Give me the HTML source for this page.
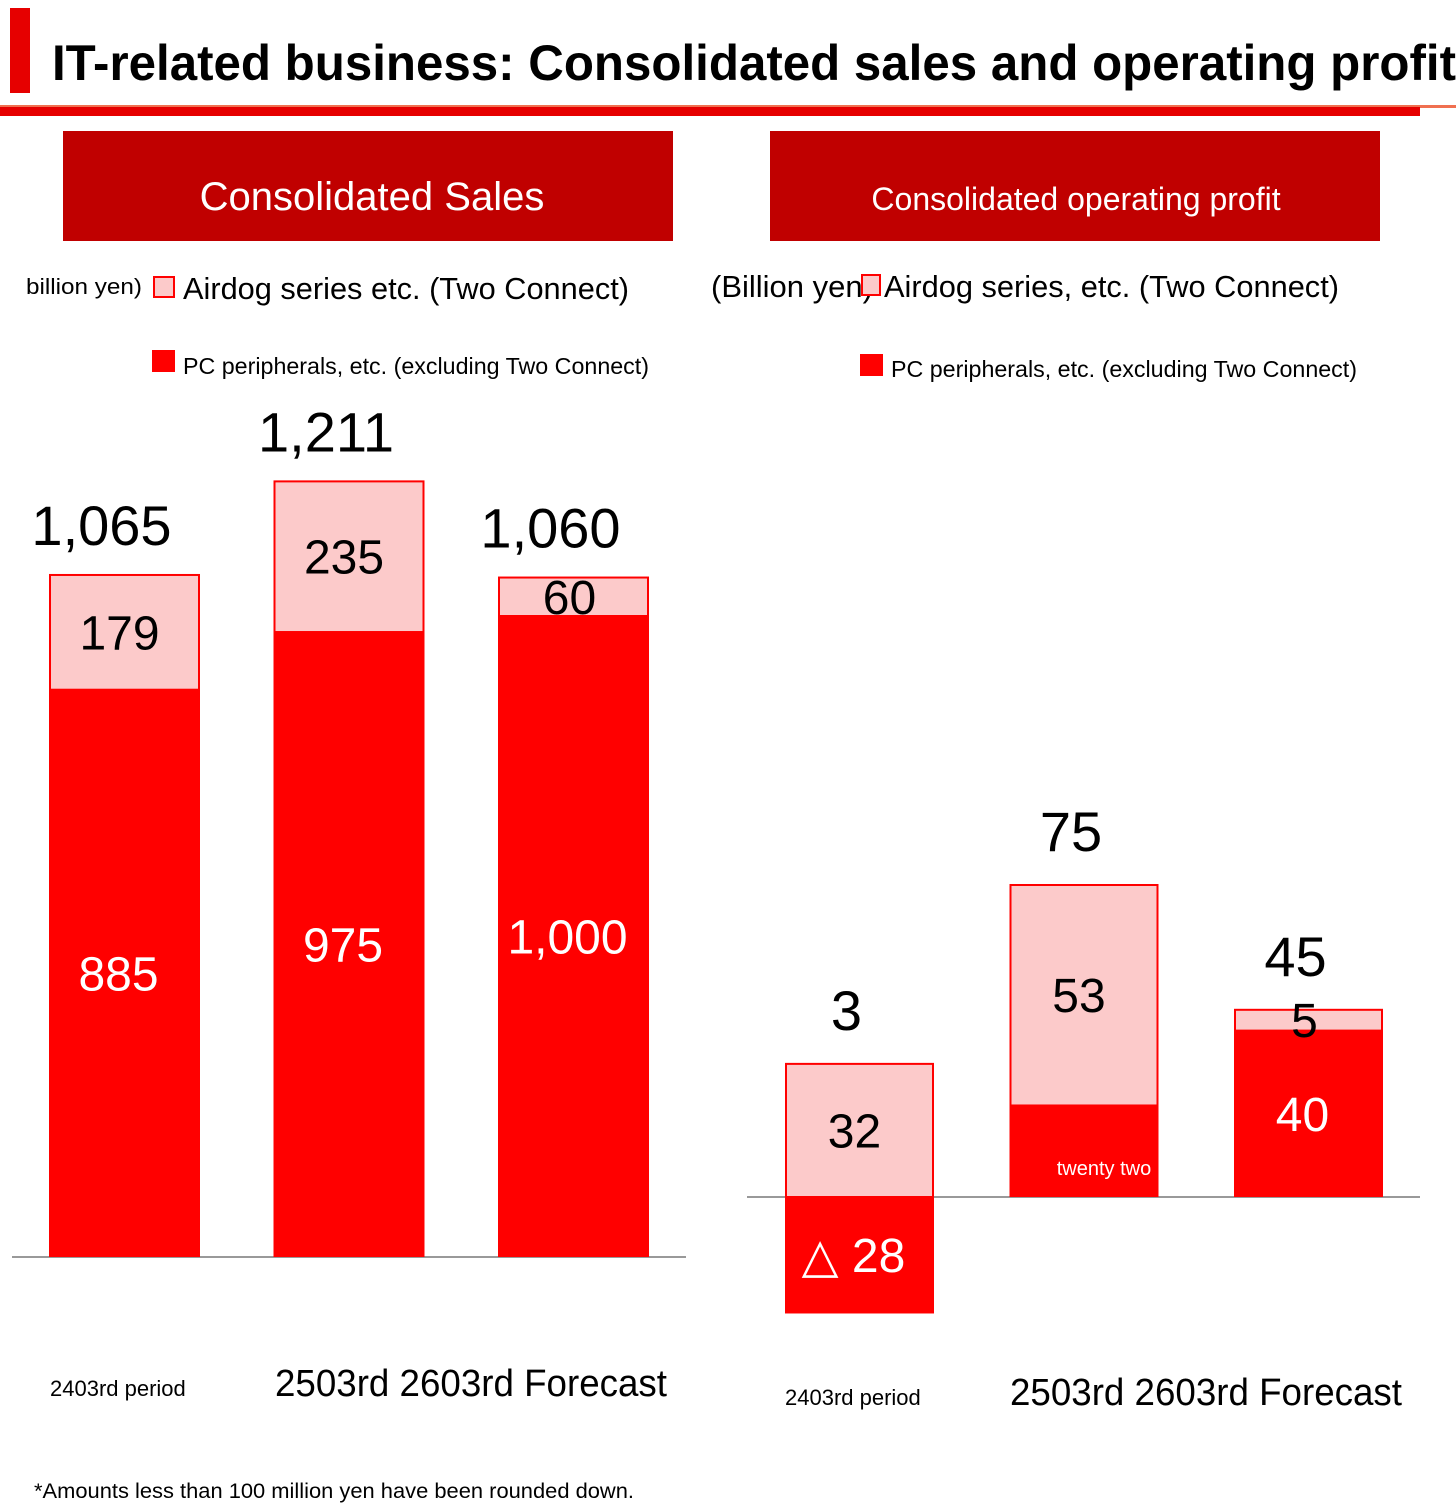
<!DOCTYPE html>
<html><head><meta charset="utf-8"><style>
html,body{margin:0;padding:0;background:#fff;}
svg{display:block;font-family:"Liberation Sans",sans-serif;}
</style></head><body>
<svg id="c" width="1456" height="1506" viewBox="0 0 1456 1506" xmlns="http://www.w3.org/2000/svg">
<rect x="10" y="8" width="20" height="85" fill="#e60000"/>
<text x="52" y="80" font-size="50" font-weight="bold" textLength="1404" lengthAdjust="spacingAndGlyphs">IT-related business: Consolidated sales and operating profit</text>
<rect x="0" y="105" width="1456" height="3" fill="#f07050"/>
<rect x="0" y="107" width="1420" height="9" fill="#e60000"/>
<rect x="63" y="131" width="610" height="110" fill="#c00000"/>
<text x="372" y="210" font-size="40" fill="#fff" text-anchor="middle">Consolidated Sales</text>
<rect x="770" y="131" width="610" height="110" fill="#c00000"/>
<text x="1076" y="210" font-size="32" fill="#fff" text-anchor="middle">Consolidated operating profit</text>
<g>
<text x="26" y="294" font-size="22" textLength="116" lengthAdjust="spacingAndGlyphs">billion yen)</text>
<rect x="154" y="277" width="20" height="20" fill="#fccaca" stroke="#ff0000" stroke-width="2"/>
<text x="183" y="299" font-size="31" textLength="446" lengthAdjust="spacingAndGlyphs">Airdog series etc. (Two Connect)</text>
<rect x="152" y="350" width="23" height="22" fill="#ff0000"/>
<text x="183" y="374" font-size="23" textLength="466" lengthAdjust="spacingAndGlyphs">PC peripherals, etc. (excluding Two Connect)</text>
</g>
<g>
<text x="711" y="297" font-size="31">(Billion yen)</text>
<rect x="862" y="275" width="18" height="20" fill="#fccaca" stroke="#ff0000" stroke-width="2"/>
<text x="884" y="297" font-size="31" textLength="455" lengthAdjust="spacingAndGlyphs">Airdog series, etc. (Two Connect)</text>
<rect x="860" y="354" width="23" height="22" fill="#ff0000"/>
<text x="891" y="377" font-size="23" textLength="466" lengthAdjust="spacingAndGlyphs">PC peripherals, etc. (excluding Two Connect)</text>
</g>
<g id="left"></g><g id="right"></g>
<text x="50" y="1396" font-size="22">2403rd period</text>
<text x="275" y="1396" font-size="38" textLength="392" lengthAdjust="spacingAndGlyphs">2503rd 2603rd Forecast</text>
<text x="785" y="1405" font-size="22">2403rd period</text>
<text x="1010" y="1405" font-size="38" textLength="392" lengthAdjust="spacingAndGlyphs">2503rd 2603rd Forecast</text>
<text x="34" y="1498" font-size="21" textLength="600" lengthAdjust="spacingAndGlyphs">*Amounts less than 100 million yen have been rounded down.</text>
</svg>
<script>
const salesCats=["2403","2503","2603F"];
const salesPC=[885,975,1000];
const salesAir=[179,235,60];
const salesTotalLabels=["1,065","1,211","1,060"];
const salesPCLabels=["885","975","1,000"];
const profitCats=["2403","2503","2603F"];
const profitPC=[-28,22,40];
const profitAir=[32,53,5];
const profitTotalLabels=["3","75","45"];
const profitPCLabels=["△ 28","twenty two","40"];
const NS="http://www.w3.org/2000/svg";
function mk(p,tag,a){const e=document.createElementNS(NS,tag);for(const k in a)e.setAttribute(k,a[k]);p.appendChild(e);return e;}
function chart(g,cfg){
  const y=v=>cfg.base-v*cfg.k;
  const ax=mk(g,'line',{x1:cfg.x0,x2:cfg.x1,y1:cfg.base,y2:cfg.base,stroke:'#999','stroke-width':2});
  
  
  cfg.cats.forEach((c,i)=>{
    const x=cfg.bx[0]+i*cfg.step, w=cfg.bw;
    const pc=cfg.pc[i], air=cfg.air[i];
    const pcTop=Math.min(y(pc),cfg.base), pcH=Math.abs(y(pc)-cfg.base);
    const r=mk(g,'rect',{x:x,y:pcTop,width:w,height:pcH,fill:'#ff0000'});
    
    
    const airBase=pc>0?pc:0;
    const a=mk(g,'rect',{x:x+1,y:y(airBase+air),width:w-2,height:air*cfg.k,fill:'#fccaca',stroke:'#ff0000','stroke-width':2});
    
    
    const top=y(airBase+air);
    const t=mk(g,'text',{x:x+w/2-cfg.to,y:top-cfg.tg,'font-size':56,'text-anchor':'middle'});
    t.textContent=cfg.tl[i];
    
    
    const am=mk(g,'text',{x:x+w/2-(i==2?4:5),y:Math.min(top+air*cfg.k/2+17,top+air*cfg.k+16),'font-size':48,'text-anchor':'middle'});
    am.textContent=String(air);
    
    
    const small=cfg.pl[i].length>6;
    const pm=mk(g,'text',{x:x+w/2+(small?20:-6),y:small?cfg.base-22:(pcTop+pcH/2+17),'font-size':small?20:48,fill:'#fff','text-anchor':'middle'});
    pm.textContent=cfg.pl[i];
    
    
  });
}
chart(document.getElementById('left'),{n:'sales',cats:salesCats,pc:salesPC,air:salesAir,tl:salesTotalLabels,pl:salesPCLabels,base:1257,k:0.641,x0:12,x1:686,bx:[49],step:224.5,bw:151,tg:30,to:23});
chart(document.getElementById('right'),{n:'profit',cats:profitCats,pc:profitPC,air:profitAir,tl:profitTotalLabels,pl:profitPCLabels,base:1197,k:4.16,x0:747,x1:1420,bx:[785],step:224.5,bw:149,tg:34,to:13});
</script>
</body></html>
